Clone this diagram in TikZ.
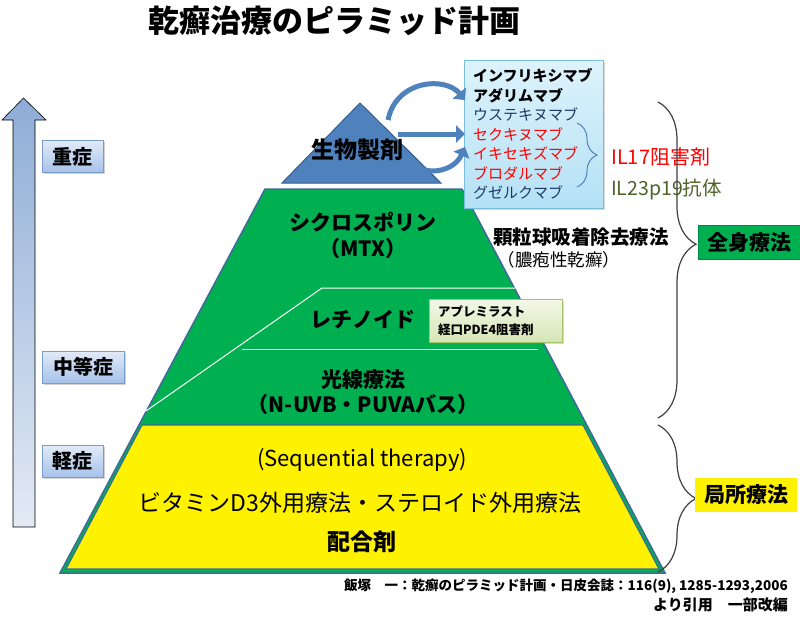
\documentclass[tikz,border=0pt]{standalone}
\usepackage{fontspec}
\setmainfont{Noto Sans CJK JP}
\usetikzlibrary{positioning,arrows.meta,shadows,decorations.pathreplacing}

\definecolor{bioblue}{HTML}{4F81BD}
\definecolor{biodark}{HTML}{385D8A}
\definecolor{pyrgreen}{HTML}{00B050}
\definecolor{pyredge}{HTML}{41689C}
\definecolor{navytext}{HTML}{1F3864}
\definecolor{olivetext}{HTML}{4F6228}
\definecolor{listtop}{HTML}{DDF3FC}
\definecolor{listbot}{HTML}{B4E1F5}
\definecolor{listedge}{HTML}{79BCDB}
\definecolor{sevtop}{HTML}{E2EAF8}
\definecolor{sevbot}{HTML}{A6C2EA}
\definecolor{sevedge}{HTML}{7A9CCB}
\definecolor{arrtop}{HTML}{8EADD6}
\definecolor{arrbot}{HTML}{E3EAF5}
\definecolor{apretop}{HTML}{F4F8E8}
\definecolor{aprebot}{HTML}{D5E5B5}
\definecolor{apreedge}{HTML}{A5C46A}
\definecolor{braceline}{HTML}{404040}

\newcommand\fsz[2]{\fontsize{#1}{#2}\selectfont}

\begin{document}
\begin{tikzpicture}[
  x=1pt, y=-1pt,
  sev/.style={rectangle, draw=sevedge, top color=sevtop, bottom color=sevbot, line width=0.8,
              minimum height=32, inner sep=0, font=\bfseries\fsz{20}{24},
              drop shadow={opacity=0.35, shadow xshift=1.5pt, shadow yshift=-1.5pt}},
  layer/.style={inner sep=0, font=\bfseries\fsz{21}{26}, align=center},
  note/.style={rectangle, draw=apreedge, top color=apretop, bottom color=aprebot, line width=0.6,
               inner xsep=9, align=left, font=\bfseries\fsz{12.5}{18},
               drop shadow={opacity=0.3, shadow xshift=2pt, shadow yshift=-2pt}},
  listbox/.style={rectangle, draw=listedge, top color=listtop, bottom color=listbot, line width=0.8,
                  inner xsep=9, align=left, font=\fsz{15}{19.5},
                  drop shadow={opacity=0.3, shadow xshift=2pt, shadow yshift=-2pt}},
  tag/.style={rectangle, minimum width=102, minimum height=34, inner sep=0, font=\bfseries\fsz{21}{25}},
  barrow/.style={draw=bioblue, line width=5, -{Triangle[length=9pt, width=17pt]}},
  bigbrace/.style={decorate, decoration={brace, amplitude=38pt, aspect=#1}, draw=braceline, line width=1.2},
  smallbrace/.style={decorate, decoration={brace, amplitude=20pt}, draw=bioblue, line width=1}
]
\useasboundingbox (0,0) rectangle (800,619);
\fill[white] (0,0) rectangle (800,619);

% title
\node[font=\bfseries\fsz{31}{36}] (title) at (334,21) {乾癬治療のピラミッド計画};

% severity arrow and labels
\draw[top color=arrtop, bottom color=arrbot, draw=black, line width=0.6]
  (13,527) -- (13,120) -- (2,120) -- (23.5,98) -- (46,120) -- (35,120) -- (35,527) -- cycle;
\node[sev, minimum width=61] (severe)   at (72.5,156.5) {重症};
\node[sev, minimum width=82] (moderate) at (83,367)     {中等症};
\node[sev, minimum width=61] (mild)     at (72.5,461)   {軽症};

% pyramid
\filldraw[fill=pyrgreen, draw=pyredge, line width=1.5] (265,189) -- (462,189) -- (665,573) -- (60,573) -- cycle;
\filldraw[fill=yellow, draw=pyredge, line width=1.2] (142,425) -- (583,425) -- (659,569) -- (66,569) -- cycle;
\draw[white, line width=1] (146,411) -- (322,288) -- (515,288);
\draw[white, line width=1] (242,349) -- (538,349);
\filldraw[fill=bioblue, draw=biodark, line width=1] (360,103) -- (441,183) -- (282,183) -- cycle;

\node[layer, font=\bfseries\fsz{23}{28}] (bio) at (357,150) {生物製剤};
\node[layer] (cyclo) at (363,235) {シクロスポリン\\（MTX）};
\node[layer, font=\bfseries\fsz{21}{25}] (retinoid) at (363,320) {レチノイド};
\node[layer, font=\bfseries\fsz{21}{25}] (photo) at (363,392.5) {光線療法\\（N-UVB・PUVAバス）};
\node[note, minimum width=133, minimum height=43, text width=115] (apre) at (495.5,320.5) {アプレミラスト\\経口PDE4阻害剤};

\node[font=\fsz{22}{26}] (seq) at (362,460) {(Sequential therapy)};
\node[font=\fsz{23}{27}] (topical) at (360,503) {ビタミンD3外用療法・ステロイド外用療法};
\node[font=\bfseries\fsz{23}{27}] (combo) at (362,542) {配合剤};

% biologics list
\node[listbox, minimum width=139, minimum height=148, text width=121] (drugs) at (533.5,134) {%
  \textbf{インフリキシマブ}\\
  \textbf{アダリムマブ}\\
  \textcolor{navytext}{ウステキヌマブ}\\
  \textcolor{red}{セクキヌマブ}\\
  \textcolor{red}{イキセキズマブ}\\
  \textcolor{red}{ブロダルマブ}\\
  \textcolor{navytext}{グゼルクマブ}};

\coordinate (arcA) at (388,120);
\coordinate (arcB) at (465,100);
\coordinate (midA) at (398,134);
\coordinate (midB) at (465,134);
\coordinate (lowA) at (404,151);
\coordinate (lowB) at (465,147);
\draw[barrow] (arcA) .. controls (396,80) and (445,76) .. (arcB);
\draw[barrow] (midA) -- (midB);
\draw[barrow] (lowA) .. controls (412,178) and (452,176) .. (lowB);

\draw[smallbrace] (577,123) -- (577,187);
\node[anchor=west, inner sep=0, text=red, font=\fsz{20}{24}] (il17) at (611,157) {IL17阻害剤};
\node[anchor=west, inner sep=0, text=olivetext, font=\fsz{19.5}{24}] (il23) at (611,190) {IL23p19抗体};

\node[font=\bfseries\fsz{19.5}{23}] (granu) at (581,237) {顆粒球吸着除去療法};
\node[font=\fsz{17.5}{21}] (pustular) at (559,260) {（膿疱性乾癬）};

% braces and therapy tags
\draw[bigbrace=0.45] (658,102) -- (658,418);
\draw[bigbrace=0.5] (658,425) -- (658,572);
\node[tag, fill=pyrgreen, draw=pyrgreen!80!black] (systemic) at (749,242) {全身療法};
\node[tag, fill=yellow] (local) at (746,495) {局所療法};

% source
\node[anchor=east, inner sep=0, font=\bfseries\fsz{13.5}{16}] (cite) at (788,586)
  {飯塚　一：乾癬のピラミッド計画・日皮会誌：116(9), 1285-1293,2006};
\node[below=4pt of cite.south east, anchor=north east, inner sep=0, font=\bfseries\fsz{15}{18}] (citeb)
  {より引用　一部改編};
\end{tikzpicture}
\end{document}
